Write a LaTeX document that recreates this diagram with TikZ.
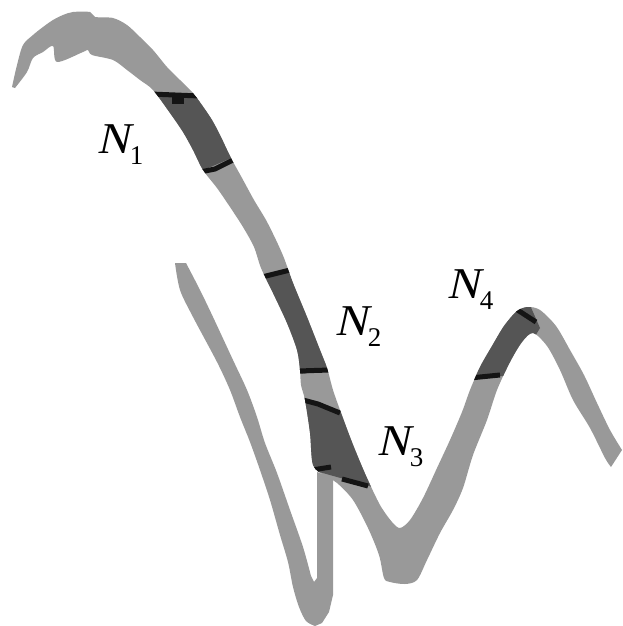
\documentclass[tikz,border=0pt]{standalone}
\usepackage{fontspec}
\newfontfamily\labfont{Liberation Serif}
\newfontfamily\labfontsl{Liberation Serif}[FakeSlant=0.22]
\definecolor{bandgray}{RGB}{153,153,153}
\definecolor{seggray}{RGB}{85,85,85}
\definecolor{tickblack}{RGB}{20,20,20}
\newcommand{\Nlab}[1]{{\labfontsl\fontsize{44}{44}\selectfont N}\kern1pt\raisebox{-11pt}{\labfont\fontsize{27}{27}\selectfont #1}}
\newcommand{\mainband}{plot[smooth,tension=0.5] coordinates {(12,87) (17,65) (23,45) (33,35) (43,27) (53,20) (63,15) (73,12) (90,12) (95,17) (113,18) (127,25) (140,37) (153,50) (167,67) (180,80) (193,93) (204,108) (212,120) (220,135) (231,158) (242,178) (254,200) (266,220) (276,240) (284,258) (293,283) (307,317) (320,350) (327,368) (333,390) (340,410) (350,437) (358,457) (367,478) (380,505) (392,522) (400,528) (410,520) (423,498) (437,468) (450,440) (462,412) (470,390) (480,367) (492,346) (504,326) (517,311) (528,307) (540,310) (556,326) (570,350) (584,375) (597,403) (610,430) (622,450)} -- plot[smooth,tension=0.5] coordinates {(611,467) (605,458) (590,428) (573,400) (560,370) (547,346) (533,333) (522,342) (510,362) (497,390) (487,420) (473,455) (463,488) (453,510) (440,533) (427,560) (417,580) (405,584) (390,582) (384,578) (379,555) (368,528) (353,500) (337,483) (325,476) (313,465) (310,433) (305,400) (301,385) (300,370) (297,350) (287,323) (273,293) (261,268) (254,247) (243,227) (230,207) (217,188) (203,170) (193,150) (183,132) (170,113) (153,90) (140,80) (127,70) (113,60) (92,55) (88,50) (83,52) (57,62) (53,46) (43,52) (33,58) (27,72) (15,88)} -- cycle}
\begin{document}
\begin{tikzpicture}[x=1pt,y=-1pt,
  band/.style={fill=bandgray},
  seg/.style={fill=seggray},
  tickmark/.style={draw=tickblack,line width=5pt},
  lbl/.style={inner sep=0pt,anchor=base west,text=black}]
\useasboundingbox[fill=white] (0,0) rectangle (622,626);
% left V-shaped stroke
\fill[band] plot[smooth,tension=0.5] coordinates {(175,263) (180,290) (193,317) (217,362) (230,390) (240,417) (250,442) (260,470) (270,500) (280,535) (288,562) (293,587) (299,607) (306,621) (315,626)} -- (322,623) -- (329,612) -- (333,595) -- (333,478) -- (317,472) -- (317,578) -- (314,582) -- plot[smooth,tension=0.5] coordinates {(311,576) (303,547) (290,510) (277,473) (265,443) (257,417) (247,390) (233,360) (213,317) (200,290) (186,263)} -- cycle;
% main band
\fill[band] \mainband;
\begin{scope}
  \clip \mainband;
  % N1 segment
  \fill[seg] (140,90) -- (208,98) -- (245,152) -- (190,176) -- cycle;
  \draw[tickmark] (150,94) -- (200,96);
  \fill[tickblack] (172,97) rectangle (184,104);
  \draw[tickmark] (200,172) -- (215,169) -- (233,160);
  % N2 segment
  \fill[seg] (250,282) -- (300,266) -- (335,370) -- (292,375) -- cycle;
  \draw[tickmark] (262,277) -- (290,270);
  \draw[tickmark] (298,371) -- (330,370);
  % N3 segment
  \fill[seg] (295,396) -- (348,413) -- (376,488) -- (305,468) -- cycle;
  \draw[tickmark] (303,400) -- (318,404) -- (340,413);
  \draw[tickmark] (312,470) -- (331,467);
  \draw[tickmark] (342,479) -- (368,486);
  % N4 segment
  \fill[seg] (455,381) -- (512,375) -- (540,328) -- (526,296) -- (470,296) -- cycle;
  \draw[tickmark] (470,378) -- (500,375);
  \draw[tickmark] (516,309) -- (536,322);
\end{scope}
% labels
\node[lbl] (n1) at (97,153) {\Nlab{1}};
\node[lbl] (n2) at (335,335) {\Nlab{2}};
\node[lbl] (n3) at (377,455) {\Nlab{3}};
\node[lbl] (n4) at (447,298) {\Nlab{4}};
\end{tikzpicture}
\end{document}
